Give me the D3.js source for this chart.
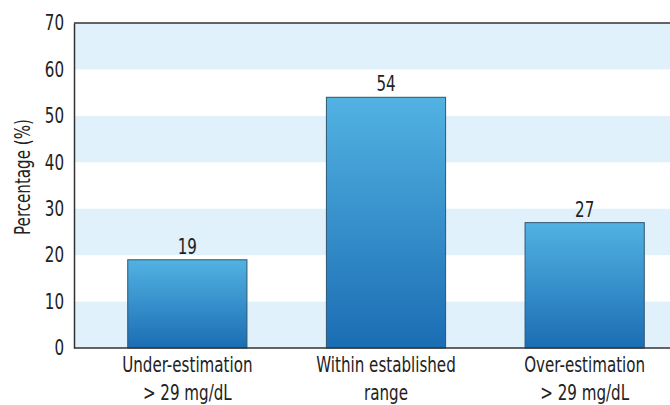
<!DOCTYPE html>
<html>
<head>
<meta charset="utf-8">
<script src="https://cdn.jsdelivr.net/npm/d3@7"></script>
<style>
  body { margin: 0; background: #fff; }
  text { font-family: "DejaVu Sans Condensed", "DejaVu Sans", sans-serif; font-stretch: condensed; fill: #222; }
</style>
</head>
<body>
<script>
// data
var categories = ["Under-estimation\n> 29 mg/dL", "Within established\nrange", "Over-estimation\n> 29 mg/dL"];
var values = [19, 54, 27];
var yTicks = [0, 10, 20, 30, 40, 50, 60, 70];

var w = 670;
var h = 405;
var padLeft = 74, padTop = 23, padBottom = 348;
var fs = "21px";
var sx = 0.8; // squeeze text horizontally, the original font is narrow

var svg = d3.select("body")
	.append("svg")
	.attr("width", w)
	.attr("height", h);

var defs = svg.append("defs");
var grad = defs.append("linearGradient")
	.attr("id", "barGrad")
	.attr("x1", 0).attr("y1", 0).attr("x2", 0).attr("y2", 1);
grad.append("stop").attr("offset", "0%").attr("stop-color", "#52b2e2");
grad.append("stop").attr("offset", "100%").attr("stop-color", "#1b6db3");

//scales
var yScale = d3.scaleLinear()
	.domain([0, 70])
	.range([padBottom, padTop]);

var xScale = d3.scaleBand()
	.domain(categories)
	.range([88, 684])
	.paddingInner(0.4)
	.paddingOuter(0.2);

// text with horizontal squeeze
function label(x, y, str, rot) {
	return svg.append("text")
		.attr("transform", "translate(" + x + "," + y + ")" + (rot ? " rotate(" + rot + ")" : "") + " scale(" + sx + ",1)")
		.attr("text-anchor", "middle")
		.attr("font-size", fs)
		.text(str);
}

//background bands
svg.selectAll("rect.band")
	.data(yTicks.slice(0, -1).filter((d, i) => i % 2 == 0))
	.enter()
	.append("rect")
	.attr("class", "band")
	.attr("x", padLeft)
	.attr("y", d => yScale(d + 10))
	.attr("width", w - padLeft)
	.attr("height", d => yScale(d) - yScale(d + 10))
	.attr("fill", "#e0f1fb");

//bars
svg.selectAll("rect.bar")
	.data(values)
	.enter()
	.append("rect")
	.attr("class", "bar")
	.attr("x", (d, i) => xScale(categories[i]))
	.attr("y", d => yScale(d))
	.attr("width", xScale.bandwidth())
	.attr("height", d => padBottom - yScale(d))
	.attr("fill", "url(#barGrad)")
	.attr("stroke", "#2f5670")
	.attr("stroke-width", 1);

//value labels
values.forEach(function(v, i) {
	label(xScale(categories[i]) + xScale.bandwidth() / 2, yScale(v) - 6, v);
});

//top frame line
svg.append("line")
	.attr("x1", padLeft).attr("x2", w)
	.attr("y1", padTop).attr("y2", padTop)
	.attr("stroke", "#333").attr("stroke-width", 1.5);

//Y axis
var yAxis = d3.axisLeft(yScale)
	.tickValues(yTicks)
	.tickSize(0)
	.tickPadding(10);

var gy = svg.append("g")
	.attr("transform", "translate(" + padLeft + ",0)")
	.call(yAxis);
gy.select(".domain").attr("stroke", "#333").attr("stroke-width", 1.5);
gy.selectAll("text")
	.attr("font-size", fs)
	.attr("font-family", null)
	.attr("fill", "#222")
	.attr("x", -10 / sx)
	.attr("transform", "scale(" + sx + ",1)");

//X axis
var xAxis = d3.axisBottom(xScale).tickSize(0).tickFormat("");
var gx = svg.append("g")
	.attr("transform", "translate(0," + padBottom + ")")
	.call(xAxis);
gx.select(".domain").attr("d", "M" + padLeft + ",0H" + w).attr("stroke", "#333").attr("stroke-width", 1.5);

categories.forEach(function(c) {
	c.split("\n").forEach(function(l, j) {
		label(xScale(c) + xScale.bandwidth() / 2, 372 + j * 28, l);
	});
});

//Y label
label(30, 177, "Percentage (%)", -90);
</script>
</body>
</html>
